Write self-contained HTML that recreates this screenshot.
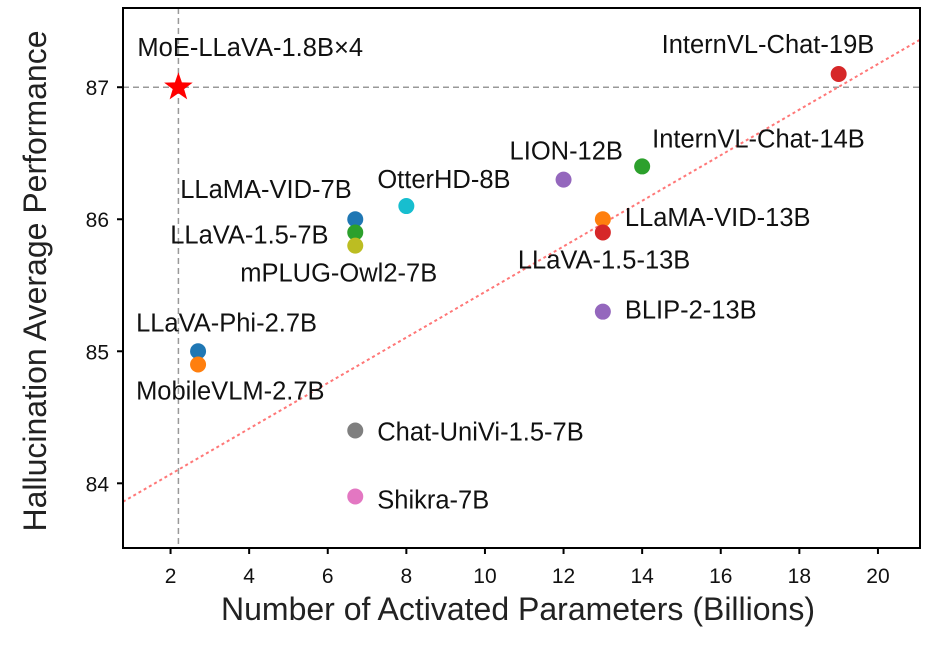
<!DOCTYPE html>
<html><head><meta charset="utf-8"><style>
body{margin:0;background:#fff;}
svg text{font-family:"Liberation Sans","DejaVu Sans",sans-serif;}
</style></head><body>
<svg id="chart" width="927" height="640" xmlns="http://www.w3.org/2000/svg"></svg>
<script>
const modelNames=["InternVL-Chat-19B","InternVL-Chat-14B","LION-12B","LLaMA-VID-13B","LLaVA-1.5-13B","BLIP-2-13B","OtterHD-8B","LLaMA-VID-7B","LLaVA-1.5-7B","mPLUG-Owl2-7B","LLaVA-Phi-2.7B","MobileVLM-2.7B","Chat-UniVi-1.5-7B","Shikra-7B"];
const params=[19,14,12,13,13,13,8,6.7,6.7,6.7,2.7,2.7,6.7,6.7];
const perf=[87.1,86.4,86.3,86.0,85.9,85.3,86.1,86.0,85.9,85.8,85.0,84.9,84.4,83.9];
const colors=["#d62728","#2ca02c","#9467bd","#ff7f0e","#d62728","#9467bd","#17becf","#1f77b4","#2ca02c","#bcbd22","#1f77b4","#ff7f0e","#7f7f7f","#e377c2"];
const labelDx=[-177,10,-54,22,-85,22,-29,-175,-185,-115,-62,-62,22,22];
const labelDy=[-21,-19,-20,7,36,7,-18,-21,11,36,-20,35,10,12];
const oursName="MoE-LLaVA-1.8B×4";
const oursX=2.2, oursY=87.0;
const xTicks=[2,4,6,8,10,12,14,16,18,20];
const yTicks=[84,85,86,87];
const trendX=[0.79,21.07];
const trendY=[83.86,87.36];

const L=123,R=920,T=8,B=548;
const xMin=0.79,xMax=21.07,yMin=83.51,yMax=87.6;
const sx=v=>L+(v-xMin)/(xMax-xMin)*(R-L);
const sy=v=>B-(v-yMin)/(yMax-yMin)*(B-T);
const svg=document.getElementById('chart');
const NS="http://www.w3.org/2000/svg";
function mk(tag,attrs,parent){const e=document.createElementNS(NS,tag);for(const k in attrs)e.setAttribute(k,attrs[k]);(parent||svg).appendChild(e);return e;}

let e=mk('line',{x1:sx(oursX),x2:sx(oursX),y1:T,y2:B,stroke:'#999','stroke-width':1.5,'stroke-dasharray':'6,4'});


e=mk('line',{x1:L,x2:R,y1:sy(oursY),y2:sy(oursY),stroke:'#999','stroke-width':1.5,'stroke-dasharray':'6,4'});


e=mk('line',{x1:sx(trendX[0]),y1:sy(trendY[0]),x2:sx(trendX[1]),y2:sy(trendY[1]),stroke:'#f77','stroke-width':2,'stroke-dasharray':'3,3'});



for(let i=0;i<modelNames.length;i++){
  const cx=sx(params[i]),cy=sy(perf[i]);
  const c=mk('circle',{cx:cx,cy:cy,r:8,fill:colors[i]});
  
  
  const t=mk('text',{x:cx+labelDx[i],y:cy+labelDy[i],'font-size':25.5,fill:'#111'});
  t.textContent=modelNames[i];
  
  
}
(function(){const cx=sx(oursX),cy=sy(oursY),ro=15,ri=6;let p=[];
for(let k=0;k<10;k++){const r=k%2?ri:ro;const a=-Math.PI/2+k*Math.PI/5;p.push((cx+r*Math.cos(a)).toFixed(1)+','+(cy+r*Math.sin(a)).toFixed(1));}
const s=mk('polygon',{points:p.join(' '),fill:'#ff0000'});


const t=mk('text',{x:cx-41,y:cy-31,'font-size':25.5,fill:'#111'});t.textContent=oursName;

})();

e=mk('rect',{x:L,y:T,width:R-L,height:B-T,fill:'none',stroke:'#000','stroke-width':2});


xTicks.forEach(v=>{const x=sx(v);mk('line',{x1:x,x2:x,y1:B,y2:B+6,stroke:'#000','stroke-width':2});
 const t=mk('text',{x:x,y:B+35,'font-size':21,'text-anchor':'middle',fill:'#111'});t.textContent=v;
 
 });
yTicks.forEach(v=>{const y=sy(v);mk('line',{x1:L-6,x2:L,y1:y,y2:y,stroke:'#000','stroke-width':2});
 const t=mk('text',{x:L-14,y:y+8,'font-size':21,'text-anchor':'end',fill:'#111'});t.textContent=v;
 
 });
e=mk('text',{x:518,y:620,'font-size':32,'text-anchor':'middle',fill:'#222'});e.textContent="Number of Activated Parameters (Billions)";


e=mk('text',{x:0,y:0,'font-size':32,'text-anchor':'middle',fill:'#222',transform:'translate(46,281) rotate(-90)'});e.textContent="Hallucination Average Performance";


</script>
</body></html>
